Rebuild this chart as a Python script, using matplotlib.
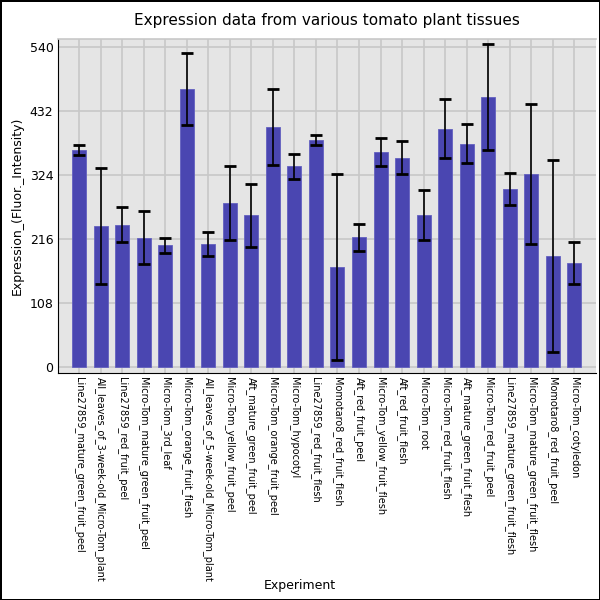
import matplotlib
matplotlib.use("Agg")
import matplotlib.pyplot as plt
import numpy as np

categories = [
    "Line27859_mature_green_fruit_peel",
    "All_leaves_of_3-week-old_Micro-Tom_plant",
    "Line27859_red_fruit_peel",
    "Micro-Tom_mature_green_fruit_peel",
    "Micro-Tom_3rd_leaf",
    "Micro-Tom_orange_fruit_flesh",
    "All_leaves_of_5-week-old_Micro-Tom_plant",
    "Micro-Tom_yellow_fruit_peel",
    "Aft_mature_green_fruit_peel",
    "Micro-Tom_orange_fruit_peel",
    "Micro-Tom_hypocotyl",
    "Line27859_red_fruit_flesh",
    "Momotaro8_red_fruit_flesh",
    "Aft_red_fruit_peel",
    "Micro-Tom_yellow_fruit_flesh",
    "Aft_red_fruit_flesh",
    "Micro-Tom_root",
    "Micro-Tom_red_fruit_flesh",
    "Aft_mature_green_fruit_flesh",
    "Micro-Tom_red_fruit_peel",
    "Line27859_mature_green_fruit_flesh",
    "Micro-Tom_mature_green_fruit_flesh",
    "Momotaro8_red_fruit_peel",
    "Micro-Tom_cotyledon",
]
values = [366, 238, 240, 218, 205, 470, 207, 277, 256, 405, 339, 383,
          169, 219, 363, 353, 256, 402, 377, 456, 300, 326, 187, 175]
errors = [8, 98, 30, 45, 13, 61, 20, 63, 53, 64, 21, 8,
          157, 23, 23, 28, 42, 50, 33, 89, 27, 118, 162, 35]
yticks = [0, 108, 216, 324, 432, 540]

fig = plt.figure(figsize=(6, 6), dpi=100)
fig.patch.set_edgecolor("black")
fig.patch.set_linewidth(2)
ax = fig.add_axes([0.096, 0.379, 0.897, 0.5555])
ax.set_facecolor("#e5e5e5")
ax.set_axisbelow(True)
ax.grid(True, color="#c8c8c8", linewidth=1.2)

x = np.arange(len(categories))
ax.bar(x, values, width=0.65, color="#4a46b1", edgecolor="#6360c0", linewidth=0.6,
       yerr=errors, error_kw=dict(ecolor="black", elinewidth=1.2, capsize=4, capthick=2))

ax.set_xlim(-1, len(categories))
ax.set_ylim(-10, 553.5)
ax.set_yticks(yticks)
ax.set_yticklabels([str(t) for t in yticks], fontsize=9)
ax.set_xticks(x)
ax.set_xticklabels(categories, rotation=-90, fontsize=7, va="top", ha="center")
ax.tick_params(axis="both", length=0, pad=3)
ax.spines["right"].set_visible(False)
ax.spines["top"].set_color("#c8c8c8")
ax.spines["top"].set_linewidth(1.2)
ax.spines["left"].set_color("black")
ax.spines["bottom"].set_color("black")

ax.set_title("Expression data from various tomato plant tissues", fontsize=11, pad=10)
ax.set_ylabel("Expression_(Fluor._Intensity)", fontsize=9)
fig.text(0.5, 0.025, "Experiment", ha="center", va="center", fontsize=9)

fig.savefig("out.png", dpi=100, edgecolor=fig.get_edgecolor())
